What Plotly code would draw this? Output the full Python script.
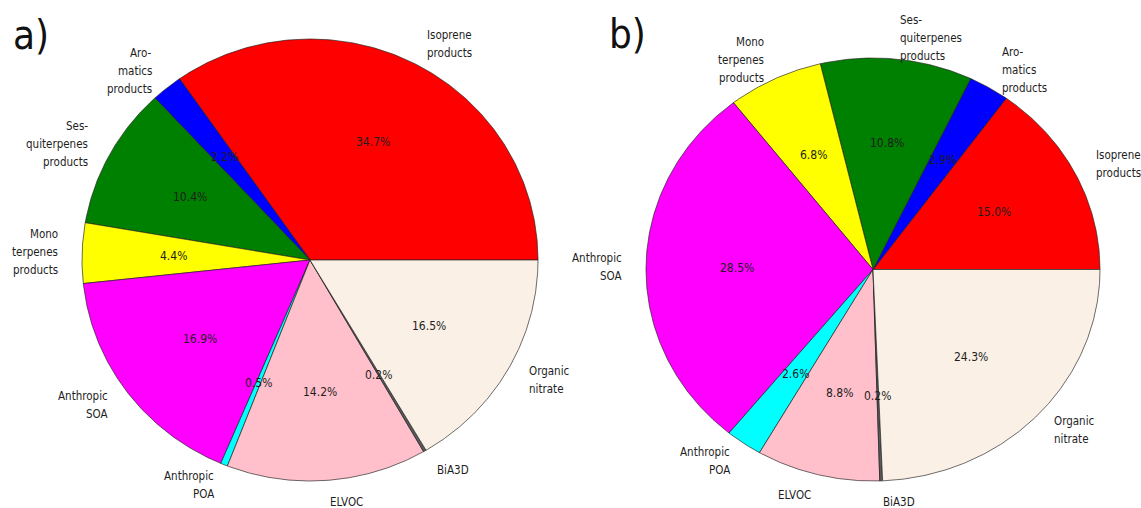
import numpy as np
import plotly.graph_objects as go

# Aerosol source categories (counter-clockwise from 3 o'clock)
categories = [
    "Isoprene\nproducts",
    "Aro-\nmatics\nproducts",
    "Ses-\nquiterpenes\nproducts",
    "Mono\nterpenes\nproducts",
    "Anthropic\nSOA",
    "Anthropic\nPOA",
    "ELVOC",
    "BiA3D",
    "Organic\nnitrate",
]
slice_colors = ["#FF0000", "#0000FF", "#008000", "#FFFF00", "#FF00FF",
                "#00FFFF", "#FFC0CB", "#5A5A5A", "#FAF0E6"]

# Percent contributions for each panel
share_a = [34.7, 2.2, 10.4, 4.4, 16.9, 0.5, 14.2, 0.2, 16.5]
share_b = [15.0, 2.9, 10.8, 6.8, 28.5, 2.6, 8.8, 0.2, 24.3]
panel_tags = ["a)", "b)"]

W, H = 1141, 508
# pixel geometry of each pie (centre, horizontal / vertical radius, panel span)
geom = [
    dict(cx=310.0, cy=260.0, rx=228.0, ry=221.0, x0=0, x1=570),
    dict(cx=873.0, cy=269.5, rx=227.0, ry=211.5, x0=571, x1=W),
]
tag_pos = [(31, 35), (627, 34)]

LABEL_DIST = 1.1
PCT_DIST = 0.6
LINE_STEP = 18  # px between lines of a multi-line label
TXT_FONT = "DejaVu Sans Condensed, DejaVu Sans, sans-serif"
LABEL_SIZE = 11.5
PCT_SIZE = 12
TXT_COLOR = "#1e1e1e"

fig = go.Figure()
annotations = []

for k, (shares, g) in enumerate(zip([share_a, share_b], geom)):
    xa = "x" if k == 0 else "x2"
    ya = "y" if k == 0 else "y2"
    vals = np.asarray(shares, dtype=float)
    frac = vals / vals.sum()
    edges = np.concatenate([[0.0], np.cumsum(frac)]) * 2 * np.pi
    for i, name in enumerate(categories):
        t0, t1 = edges[i], edges[i + 1]
        n = max(3, int(np.degrees(t1 - t0) * 2))
        th = np.linspace(t0, t1, n)
        xs = np.concatenate([[0.0], np.cos(th), [0.0]])
        ys = np.concatenate([[0.0], np.sin(th), [0.0]])
        fig.add_trace(go.Scatter(
            x=xs, y=ys, xaxis=xa, yaxis=ya, mode="lines", fill="toself",
            fillcolor=slice_colors[i],
            line=dict(color="rgba(30,30,30,0.65)", width=1),
            name=name.replace("\n", " "), hoverinfo="name", showlegend=False,
        ))
        mid = 0.5 * (t0 + t1)
        lx, ly = LABEL_DIST * np.cos(mid), LABEL_DIST * np.sin(mid)
        right = lx >= 0
        lines = name.split("\n")
        for j, line in enumerate(lines):
            annotations.append(dict(
                x=lx, y=ly, xref=xa, yref=ya, text=line, showarrow=False,
                xanchor="left" if right else "right", yanchor="middle",
                yshift=-(j - (len(lines) - 1) / 2) * LINE_STEP, borderpad=0,
                font=dict(family=TXT_FONT, size=LABEL_SIZE, color=TXT_COLOR),
            ))
        px, py = PCT_DIST * np.cos(mid), PCT_DIST * np.sin(mid)
        annotations.append(dict(
            x=px, y=py, xref=xa, yref=ya, text=f"{frac[i] * 100:.1f}%",
            showarrow=False, xanchor="center", yanchor="middle", borderpad=0,
            font=dict(family=TXT_FONT, size=PCT_SIZE, color=TXT_COLOR),
        ))

for tag, (tx, ty) in zip(panel_tags, tag_pos):
    annotations.append(dict(
        x=tx / W, y=1 - ty / H, xref="paper", yref="paper", text=tag,
        showarrow=False, xanchor="center", yanchor="middle",
        font=dict(family="DejaVu Sans Condensed, DejaVu Sans, sans-serif",
                  size=40, color="#111111"),
    ))

axis_common = dict(visible=False, showgrid=False, zeroline=False, fixedrange=True)
layout_axes = {}
for k, g in enumerate(geom):
    sfx = "" if k == 0 else "2"
    layout_axes["xaxis" + sfx] = dict(
        axis_common, domain=[g["x0"] / W, g["x1"] / W],
        range=[(g["x0"] - g["cx"]) / g["rx"], (g["x1"] - g["cx"]) / g["rx"]],
        anchor="y" + sfx,
    )
    layout_axes["yaxis" + sfx] = dict(
        axis_common, domain=[0, 1],
        range=[(g["cy"] - H) / g["ry"], g["cy"] / g["ry"]],
        anchor="x" + sfx,
    )

fig.update_layout(
    width=W, height=H,
    margin=dict(l=0, r=0, t=0, b=0),
    paper_bgcolor="white", plot_bgcolor="white",
    annotations=annotations,
    **layout_axes,
)

fig.write_html("out.html")
